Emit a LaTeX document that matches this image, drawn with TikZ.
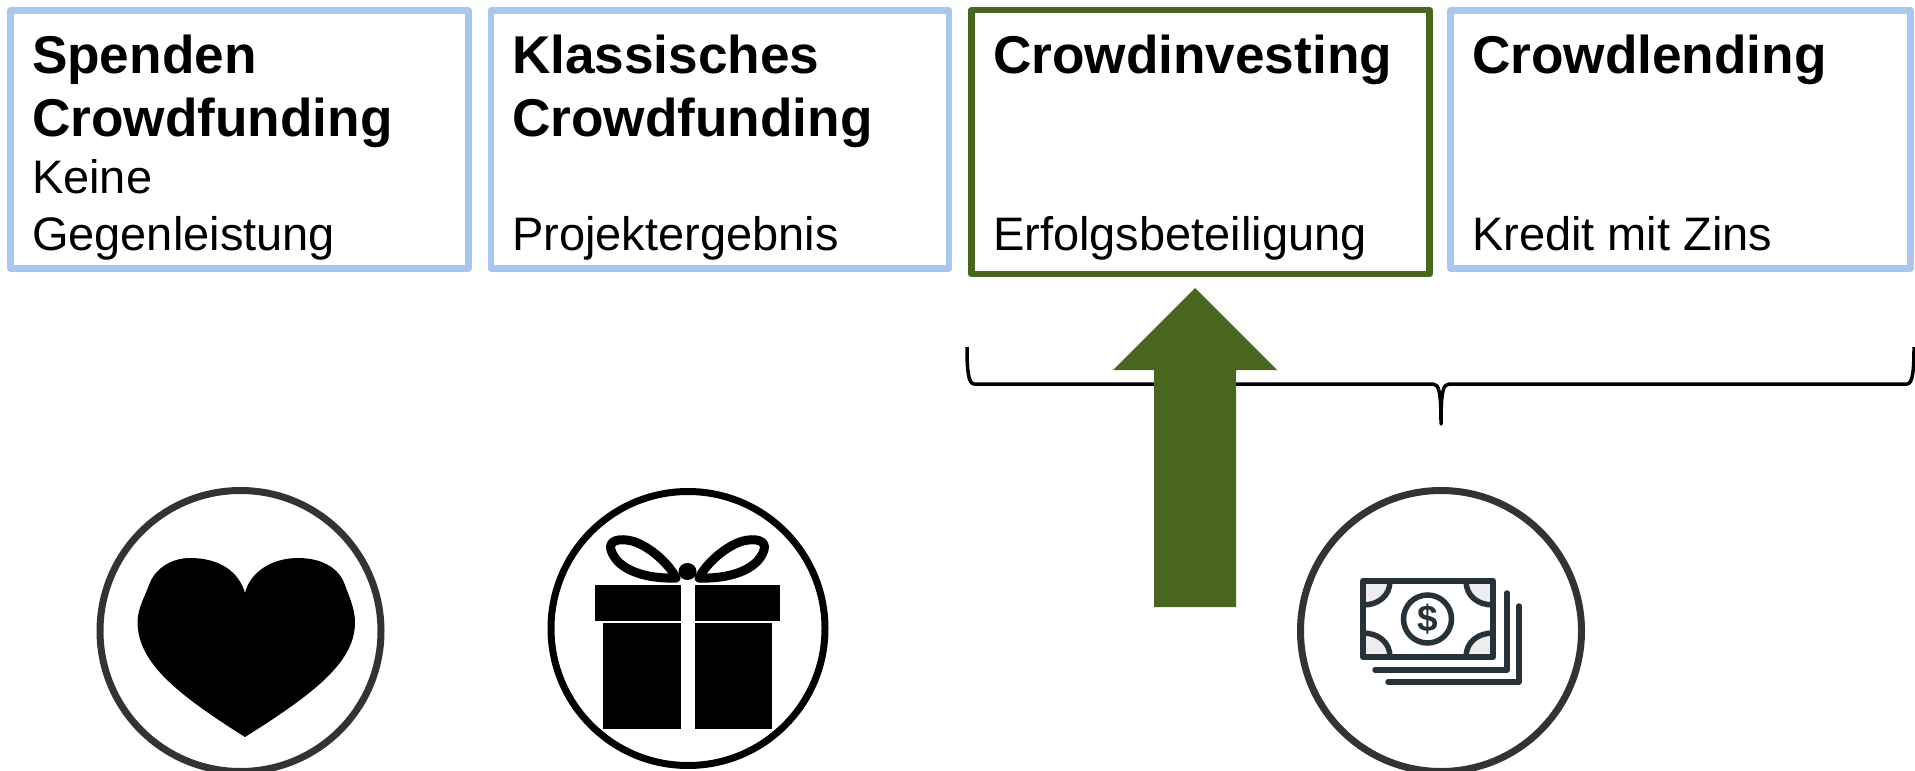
\documentclass[tikz,border=0pt]{standalone}
\usepackage{fontspec}
\setmainfont{Liberation Sans}
\definecolor{boxblue}{HTML}{A9C6EE}
\definecolor{boxgreen}{HTML}{48661E}
\definecolor{arrowgreen}{HTML}{48661E}
\definecolor{ringgrey}{HTML}{333333}
\definecolor{notecol}{HTML}{263238}
\tikzset{
  cardbox/.style={draw=boxblue,line width=6.5pt,rectangle,inner sep=0pt,outer sep=0pt,anchor=north west,line join=round},
  cardgreen/.style={cardbox,draw=boxgreen},
  cardtitle/.style={anchor=base west,inner sep=0pt,outer sep=0pt,align=left,font=\fontsize{53.2}{63}\selectfont\bfseries},
  cardsub/.style={anchor=base west,inner sep=0pt,outer sep=0pt,font=\fontsize{47}{57}\selectfont},
  ring/.style={circle,draw=ringgrey,line width=7pt,inner sep=0pt,outer sep=0pt,fill=white},
  giftpart/.style={fill=black,draw=none},
  bowline/.style={draw=black,line width=9pt,line join=round,fill=white},
  noteline/.style={draw=notecol,line width=5.5pt,line cap=round,line join=round}
}
\begin{document}
\begin{tikzpicture}[x=1pt,y=-1pt]
\useasboundingbox (0,0) rectangle (1915,771);
% cards
\node[cardbox,minimum width=458pt,minimum height=258pt] (c1) at (10.5,10.5) {};
\node[cardbox,minimum width=458pt,minimum height=258pt] (c2) at (491,10.5) {};
\node[cardgreen,minimum width=458pt,minimum height=264pt] (c3) at (971.5,10) {};
\node[cardbox,minimum width=460pt,minimum height=258pt] (c4) at (1450.5,10.5) {};
% card texts
\node[cardtitle] (t1a) at (32,73) {Spenden};
\node[cardtitle] (t1b) at (32,136) {Crowdfunding};
\node[cardsub] (s1a) at (32,193) {Keine};
\node[cardsub] (s1b) at (32,250) {Gegenleistung};
\node[cardtitle] (t2a) at (512,73) {Klassisches};
\node[cardtitle] (t2b) at (512,136) {Crowdfunding};
\node[cardsub] (s2) at (512,250) {Projektergebnis};
\node[cardtitle] (t3) at (993,73) {Crowdinvesting};
\node[cardsub] (s3) at (993,250) {Erfolgsbeteiligung};
\node[cardtitle] (t4) at (1472,73) {Crowdlending};
\node[cardsub] (s4) at (1472,250) {Kredit mit Zins};
% brace
\draw[line width=3.5pt,line join=round]
  (967,347) .. controls (967,368) and (968,384) .. (974,384) -- (1433,384)
  .. controls (1439,384) and (1441,392) .. (1441,424)
  .. controls (1441,392) and (1443,384) .. (1449,384) -- (1907,384)
  .. controls (1913,384) and (1914,368) .. (1914,347);
% arrow
\fill[arrowgreen] (1195,288) -- (1277,370) -- (1236,370) -- (1236,607) -- (1154,607) -- (1154,370) -- (1113,370) -- cycle;
% heart
\node[ring,minimum size=281pt] (r1) at (240.5,631) {};
\fill[black] (245,593) .. controls (239,572) and (220,558) .. (190,558)
  .. controls (172,558) and (155,568) .. (149,585)
  .. controls (146,594) and (137.5,608) .. (137.5,622)
  .. controls (138,660) and (170,690) .. (245,737)
  .. controls (320,690) and (355,660) .. (355,622)
  .. controls (355,608) and (348,594) .. (345,585)
  .. controls (339,568) and (322,558) .. (298,558)
  .. controls (272,558) and (250,572) .. (245,593) -- cycle;
% gift
\node[ring,draw=black,minimum size=274pt] (r2) at (688,628.5) {};
\fill[giftpart] (595,585) rectangle (681,621);
\fill[giftpart] (695,585) rectangle (780,621);
\fill[giftpart] (603,623) rectangle (681,729);
\fill[giftpart] (695,623) rectangle (772,729);
\draw[bowline] (676,578) .. controls (650,579) and (618,572) .. (611,550)
  .. controls (608,540) and (620,538) .. (632,541)
  .. controls (650,546) and (670,565) .. (676,578) -- cycle;
\draw[bowline] (699,578) .. controls (725,579) and (757,572) .. (764,550)
  .. controls (767,540) and (755,538) .. (743,541)
  .. controls (725,546) and (705,565) .. (699,578) -- cycle;
\fill[black] (687.5,571.5) ellipse [x radius=9pt,y radius=8.5pt];
% money
\node[ring,minimum size=281pt] (r3) at (1441,631) {};
\fill[black!7] (1363,581) rectangle (1390,605);
\fill[black!7] (1466,581) rectangle (1493,605);
\fill[black!7] (1363,633) rectangle (1390,657);
\fill[black!7] (1466,633) rectangle (1493,657);
\fill[white] (1390,581) .. controls (1390,596) and (1378,605) .. (1363,605) -- (1363,633) .. controls (1378,633) and (1390,642) .. (1390,657) -- (1466,657) .. controls (1466,642) and (1478,633) .. (1493,633) -- (1493,605) .. controls (1478,605) and (1466,596) .. (1466,581) -- cycle;
\draw[noteline,line width=6pt] (1363,581) rectangle (1493,657);
\draw[noteline] (1390,581) .. controls (1390,596) and (1378,605) .. (1363,605);
\draw[noteline] (1466,581) .. controls (1466,596) and (1478,605) .. (1493,605);
\draw[noteline] (1390,657) .. controls (1390,642) and (1378,633) .. (1363,633);
\draw[noteline] (1466,657) .. controls (1466,642) and (1478,633) .. (1493,633);
\node[circle,draw=notecol,line width=5.5pt,minimum size=48pt,inner sep=0pt,text=notecol,font=\fontsize{37}{37}\selectfont\bfseries] (dollar) at (1427.5,619) {\$};
\draw[noteline] (1375,670) -- (1507,670) -- (1507,593);
\draw[noteline] (1388,682) -- (1519,682) -- (1519,606);
\end{tikzpicture}
\end{document}
